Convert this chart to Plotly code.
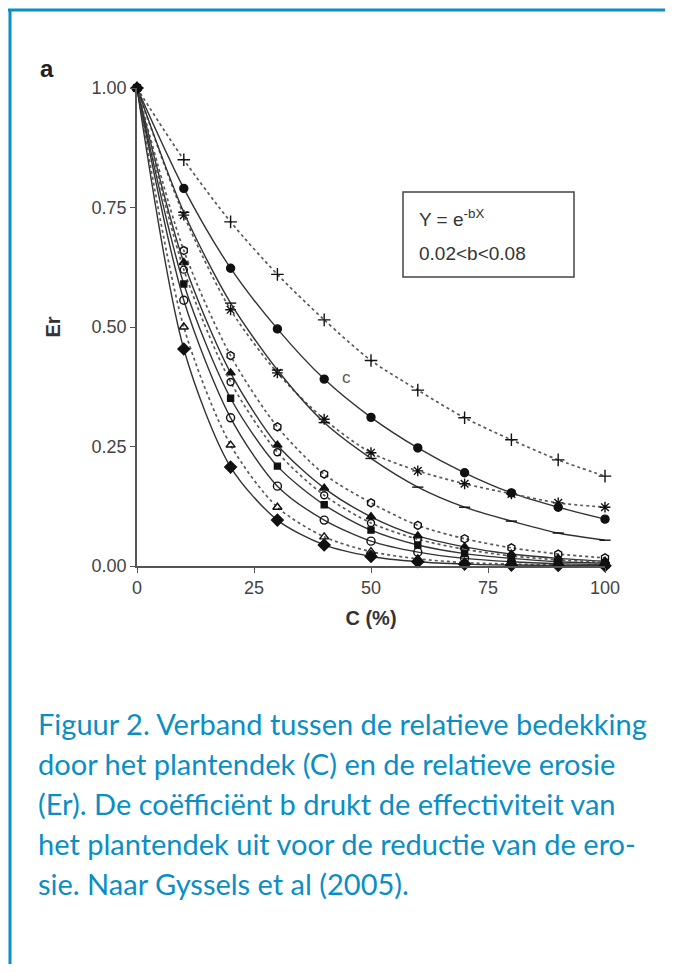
import plotly.graph_objects as go

# ---- data ----
C = [0, 10, 20, 30, 40, 50, 60, 70, 80, 90, 100]

er_plus      = [1, 0.85, 0.72, 0.61, 0.515, 0.43, 0.368, 0.31, 0.264, 0.222, 0.188]
er_dot_up    = [1, 0.79, 0.623, 0.496, 0.391, 0.311, 0.247, 0.195, 0.153, 0.123, 0.098]
er_aster     = [1, 0.734, 0.536, 0.404, 0.307, 0.237, 0.199, 0.172, 0.151, 0.132, 0.123]
er_dash      = [1, 0.74, 0.55, 0.41, 0.30, 0.225, 0.165, 0.123, 0.094, 0.069, 0.054]
er_hex       = [1, 0.66, 0.44, 0.291, 0.192, 0.132, 0.085, 0.057, 0.038, 0.025, 0.017]
er_tri_fill  = [1, 0.635, 0.404, 0.253, 0.163, 0.103, 0.063, 0.040, 0.025, 0.016, 0.010]
er_circ1     = [1, 0.62, 0.385, 0.238, 0.148, 0.090, 0.056, 0.035, 0.021, 0.013, 0.008]
er_square    = [1, 0.59, 0.351, 0.209, 0.128, 0.075, 0.044, 0.026, 0.016, 0.009, 0.006]
er_circ2     = [1, 0.556, 0.31, 0.167, 0.096, 0.052, 0.029, 0.016, 0.009, 0.005, 0.003]
er_tri_open  = [1, 0.50, 0.253, 0.123, 0.061, 0.030, 0.015, 0.007, 0.004, 0.002, 0.001]
er_diamond   = [1, 0.454, 0.207, 0.096, 0.044, 0.020, 0.009, 0.004, 0.002, 0.001, 0.0005]

x_ticks = [0, 25, 50, 75, 100]
y_ticks = [0, 0.25, 0.5, 0.75, 1.0]
y_tick_labels = ["0.00", "0.25", "0.50", "0.75", "1.00"]

caption_lines = [
    "Figuur 2. Verband tussen de relatieve bedekking",
    "door het plantendek (C) en de relatieve erosie",
    "(Er). De coëfficiënt b drukt de effectiviteit van",
    "het plantendek uit voor de reductie van de ero-",
    "sie. Naar Gyssels et al (2005).",
]

series = [
    (er_plus, "cross-thin-open", 9, "dot"),
    (er_dot_up, "circle", 8, "solid"),
    (er_aster, "asterisk-open", 9, "dot"),
    (er_dash, "line-ew-open", 8, "solid"),
    (er_hex, "hexagon-open", 8, "dot"),
    (er_tri_fill, "triangle-up", 8, "solid"),
    (er_circ1, "circle-open", 7, "dot"),
    (er_square, "square", 6, "solid"),
    (er_circ2, "circle-open", 8, "solid"),
    (er_tri_open, "triangle-up-open", 8, "dot"),
    (er_diamond, "diamond", 9, "solid"),
]

# ---- layout geometry (pixels in the reference picture) ----
OFF = 8                     # page body margin
W, H = 673 - 2 * OFF, 972 - 2 * OFF
L, R, T, B = 137, 605, 88, 566
pw, ph = R - L, B - T

def px(x):
    return (x - L) / pw

def py(y):
    return (B - y) / ph

BLUE = "#0a8ec6"
AX = "#555555"

fig = go.Figure()
for vals, sym, size, dash in series:
    fig.add_trace(go.Scatter(
        x=C, y=vals, mode="lines+markers",
        line=dict(color="#333333" if dash == "solid" else "#5a5a5a",
                  width=1.4 if dash == "solid" else 1.7, dash=dash, shape="spline", smoothing=0.8),
        marker=dict(symbol=sym, size=size, color="#111111",
                    line=dict(color="#111111", width=1.4)),
        cliponaxis=False, showlegend=False, hoverinfo="skip",
    ))

shapes = [
    # blue frame (top and left)
    dict(type="line", xref="paper", yref="paper", x0=px(8), x1=px(700), y0=py(10), y1=py(10),
         line=dict(color=BLUE, width=3)),
    dict(type="line", xref="paper", yref="paper", x0=px(10), x1=px(10), y0=py(9), y1=py(1000),
         line=dict(color=BLUE, width=3)),
    # equation box
    dict(type="rect", xref="paper", yref="paper", x0=px(403), x1=px(574), y0=py(192), y1=py(277),
         line=dict(color="#444444", width=1.5), fillcolor="rgba(0,0,0,0)"),
]

annotations = [
    dict(text="<b>a</b>", xref="paper", yref="paper", x=px(38), y=py(68), xanchor="left", yanchor="middle",
         showarrow=False, font=dict(family="Liberation Sans", size=24, color="#222")),
    dict(text="Y = e<sup>-bX</sup>", xref="paper", yref="paper", x=px(417), y=py(218), xanchor="left",
         yanchor="middle", showarrow=False, font=dict(family="Liberation Sans", size=19, color="#333")),
    dict(text="0.02&lt;b&lt;0.08", xref="paper", yref="paper", x=px(417), y=py(253),
         xanchor="left", yanchor="middle", showarrow=False,
         font=dict(family="Liberation Sans", size=19, color="#333")),
    dict(text="c", xref="paper", yref="paper", x=px(346), y=py(377), xanchor="center", yanchor="middle",
         showarrow=False, font=dict(family="Liberation Sans", size=17, color="#555")),
]
for i, line in enumerate(caption_lines):
    annotations.append(dict(text=line, xref="paper", yref="paper", x=px(36), y=py(723 + 40 * i),
                            xanchor="left", yanchor="middle", showarrow=False,
                            font=dict(family="Lato", size=29, color=BLUE)))

fig.update_layout(
    width=W, height=H,
    margin=dict(l=L - OFF, r=W - (R - OFF), t=T - OFF, b=H - (B - OFF), pad=0),
    paper_bgcolor="white", plot_bgcolor="white",
    shapes=shapes, annotations=annotations,
    xaxis=dict(range=[0, 100], tickvals=x_ticks, ticks="outside", ticklen=5, tickcolor=AX,
               showline=True, linecolor=AX, linewidth=1.5, showgrid=False, zeroline=False,
               tickfont=dict(family="Liberation Sans", size=18, color="#444"),
               title=dict(text="<b>C (%)</b>", standoff=14,
                          font=dict(family="Liberation Sans", size=20, color="#333"))),
    yaxis=dict(range=[0, 1], tickvals=y_ticks, ticktext=y_tick_labels, ticks="outside", ticklen=5,
               tickcolor=AX, showline=True, linecolor=AX, linewidth=1.5, showgrid=False, zeroline=False,
               tickfont=dict(family="Liberation Sans", size=18, color="#444"),
               title=dict(text="<b>Er</b>", standoff=26,
                          font=dict(family="Liberation Sans", size=20, color="#333"))),
)

fig.write_html("out.html")
